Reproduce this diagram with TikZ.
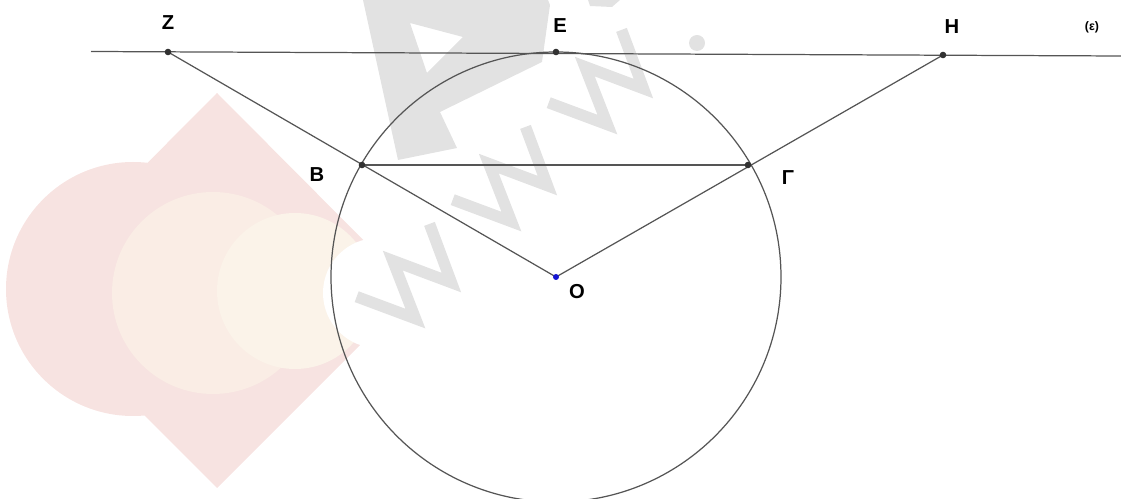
\documentclass[tikz,border=0pt]{standalone}
\usepackage{fontspec}
\setmainfont{Liberation Sans}
\usetikzlibrary{calc}
\definecolor{wmpink}{RGB}{247,227,225}
\definecolor{wmpeach}{RGB}{250,237,229}
\definecolor{wmcream}{RGB}{251,243,233}
\definecolor{wmgray}{RGB}{226,226,226}
\definecolor{geoline}{RGB}{85,85,85}
\definecolor{ptdark}{RGB}{50,50,50}
\definecolor{ptblue}{RGB}{20,20,210}
\newcommand{\wmW}[1]{\begin{scope}[shift={#1}]
  \draw[wmgray,line width=6.5pt,line join=miter] (-40.3,-40.3)--(18.4,-18.4)--(-4.2,-76.4)--(54.4,-54.4)--(32.5,-113.1);\end{scope}}

\begin{document}
\begin{tikzpicture}[x=0.2mm,y=-0.2mm,
  lbl/.style={font=\bfseries\fontsize{11.5}{13}\selectfont,inner sep=0pt},
  seg/.style={geoline,line width=0.7pt},
  dotpt/.style={fill=ptdark}]
\useasboundingbox (0,0) rectangle (1121,499);
% watermark
\fill[wmpink] (217,93)--(414,291)--(217,488)--(20,291)--cycle;
\fill[wmpink] (133,289) circle (127);
\fill[wmpeach] (213,293) circle (101);
\fill[wmcream] (295,291) circle (78);
\fill[white] (378,293) circle (55);
\fill[wmgray,even odd rule] (363,0)--(398,160)--(457,148)--(440,112)--(542,62)--(550,5)--(548,0)--cycle
  (410,23)--(463,37)--(427,73)--cycle;
\fill[wmgray] (588,0)--(620,0)--(612,7)--(590,6)--cycle;
\wmW{(397,337)}
\wmW{(493,240)}
\wmW{(589,143)}
\fill[wmgray] (697,43) circle (8);
% figure
\coordinate (O) at (556,277);
\coordinate (E) at (556,52);
\coordinate (Z) at (168,52);
\coordinate (H) at (943,55);
\coordinate (B) at (362,165);
\coordinate (G) at (748,165);
\coordinate (el) at (91,51.5);
\coordinate (er) at (1121,56);
\draw[seg] (el)--(er);
\draw[seg] (O) circle (225);
\draw[seg] (Z)--(O)--(H);
\draw[seg] (B)--(G);
\foreach \p in {Z,E,H,B,G} \fill[dotpt] (\p) circle (3.3);
\fill[ptblue] (O) circle (3);
\node[lbl] (lZ) at (168,23) {Z};
\node[lbl] (lE) at (560,26) {E};
\node[lbl] (lH) at (952,27) {H};
\node[lbl] (lB) at (317,175) {B};
\node[lbl] (lG) at (788,178) {Γ};
\node[lbl] (lO) at (577,292) {O};
\node[font=\bfseries\fontsize{7}{8}\selectfont,inner sep=0pt] (leps) at (1092,27) {(ε)};
\end{tikzpicture}
\end{document}
